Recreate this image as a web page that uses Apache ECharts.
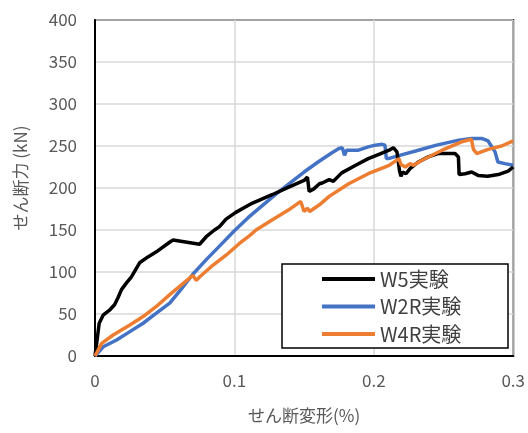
<!DOCTYPE html>
<html>
<head>
<meta charset="utf-8">
<script src="https://cdn.jsdelivr.net/npm/echarts@6/dist/echarts.min.js"></script>
<style>html,body{margin:0;padding:0;background:#fff}#c{width:528px;height:433px}</style>
</head>
<body>
<div id="c"></div>
<script>
const seriesNames = ['W5実験', 'W2R実験', 'W4R実験'];
const xTicks = [0, 0.1, 0.2, 0.3];
const yTicks = [0, 50, 100, 150, 200, 250, 300, 350, 400];

const w5X = [0, 0.0012, 0.003, 0.006, 0.0107, 0.014, 0.0164, 0.019, 0.0226, 0.026, 0.032, 0.038, 0.044, 0.054, 0.056, 0.075, 0.0798, 0.0857, 0.0893, 0.094, 0.101, 0.1107, 0.113, 0.127, 0.139, 0.15, 0.1524, 0.1536, 0.157, 0.161, 0.163, 0.168, 0.171, 0.177, 0.187, 0.196, 0.205, 0.211, 0.214, 0.2166, 0.2185, 0.2195, 0.2207, 0.2231, 0.226, 0.232, 0.239, 0.246, 0.2583, 0.2607, 0.2612, 0.2655, 0.2702, 0.2748, 0.2817, 0.2893, 0.2964, 0.3];
const w5Y = [0, 15, 39, 49, 55, 61, 69, 79, 87, 94, 111, 118, 124, 136, 138, 133, 142, 150, 154, 163, 171, 180, 182, 192, 201, 209, 213, 196, 199, 205, 206, 210, 208, 218, 227, 235, 241, 245, 248, 243, 220, 214, 219, 217, 223, 231, 237, 241, 241, 237, 216, 217, 219, 215, 214, 216, 220, 225];

const w2rX = [0, 0.0059, 0.0155, 0.025, 0.0345, 0.044, 0.0536, 0.062, 0.07, 0.08, 0.09, 0.1, 0.11, 0.12, 0.13, 0.14, 0.15, 0.16, 0.17, 0.175, 0.1774, 0.179, 0.1805, 0.189, 0.196, 0.201, 0.206, 0.208, 0.209, 0.2105, 0.2166, 0.23, 0.245, 0.261, 0.2702, 0.2774, 0.282, 0.287, 0.289, 0.294, 0.3];
const w2rY = [0, 11, 19, 29, 39, 51, 63, 80, 97, 115, 132, 149, 165, 179, 193, 206, 219, 231, 242, 247, 248, 239, 245, 245, 249, 251, 252, 251, 235, 235, 238, 244, 251, 257, 259, 259, 256, 243, 231, 229, 227];

const w4rX = [0, 0.0048, 0.013, 0.025, 0.0345, 0.044, 0.0536, 0.0702, 0.0726, 0.075, 0.0845, 0.094, 0.1036, 0.1107, 0.1155, 0.127, 0.139, 0.1476, 0.15, 0.1524, 0.154, 0.161, 0.168, 0.182, 0.196, 0.211, 0.218, 0.2195, 0.2226, 0.226, 0.2286, 0.2345, 0.249, 0.263, 0.27, 0.2715, 0.2738, 0.282, 0.2917, 0.3];
const w4rY = [0, 15, 25, 37, 47, 59, 73, 96, 90, 94, 108, 120, 134, 143, 150, 162, 174, 184, 172, 176, 172, 180, 190, 205, 217, 227, 235, 228, 225, 229, 227, 233, 245, 255, 258, 246, 241, 246, 250, 256];

function pairs(xs, ys) { return xs.map((x, i) => [x, ys[i]]); }

const chart = echarts.init(document.getElementById('c'), null, {renderer: 'canvas'});
const font = '"Noto Sans CJK JP", "Noto Sans", sans-serif';
const colors = ['#000000', '#4472C4', '#ED7D31'];

chart.setOption({
  animation: false,
  backgroundColor: '#ffffff',
  textStyle: {fontFamily: font},
  grid: {left: 95, right: 13, top: 20, bottom: 77, show: true, borderColor: '#000', borderWidth: 2, backgroundColor: 'transparent'},
  xAxis: {
    type: 'value', min: xTicks[0], max: xTicks[xTicks.length - 1], interval: 0.1,
    name: 'せん断変形(%)', nameLocation: 'middle', nameGap: 51,
    nameTextStyle: {color: '#595959', fontSize: 17, fontFamily: font},
    axisLine: {lineStyle: {color: '#000', width: 2}},
    axisTick: {show: false},
    axisLabel: {color: '#595959', fontSize: 17, margin: 16, fontFamily: font,
      formatter: v => (Math.abs(v) < 1e-9 ? '0' : (Math.round(v * 10) / 10).toString())},
    splitLine: {show: true, lineStyle: {color: '#d9d9d9', width: 1.5}}
  },
  yAxis: {
    type: 'value', min: yTicks[0], max: yTicks[yTicks.length - 1], interval: 50,
    name: 'せん断力 (kN)', nameLocation: 'middle', nameGap: 66,
    nameTextStyle: {color: '#595959', fontSize: 17, fontFamily: font, padding: [0, 0, 0, 20]},
    axisLine: {show: true, lineStyle: {color: '#000', width: 2}},
    axisTick: {show: false},
    axisLabel: {color: '#595959', fontSize: 17, margin: 18, fontFamily: font},
    splitLine: {show: true, lineStyle: {color: '#d9d9d9', width: 1.5}}
  },
  legend: {
    orient: 'vertical', left: 322, top: 269, padding: 0,
    icon: 'rect', itemWidth: 53, itemHeight: 4, itemGap: 7.5,
    textStyle: {color: '#404040', fontSize: 20, lineHeight: 20, fontFamily: font},
    data: seriesNames
  },
  graphic: [{type: 'rect', shape: {x: 282, y: 264, width: 226, height: 84}, style: {fill: 'rgba(255,255,255,1)', stroke: '#000', lineWidth: 1.5}, z: 1, zlevel: 0}],
  series: [
    {name: seriesNames[0], type: 'line', data: pairs(w5X, w5Y), showSymbol: false, color: colors[0], lineStyle: {width: 3.5, color: colors[0]}, z: 3},
    {name: seriesNames[1], type: 'line', data: pairs(w2rX, w2rY), showSymbol: false, color: colors[1], lineStyle: {width: 3.5, color: colors[1]}, z: 2},
    {name: seriesNames[2], type: 'line', data: pairs(w4rX, w4rY), showSymbol: false, color: colors[2], lineStyle: {width: 3.5, color: colors[2]}, z: 4}
  ]
});
</script>
</body>
</html>
